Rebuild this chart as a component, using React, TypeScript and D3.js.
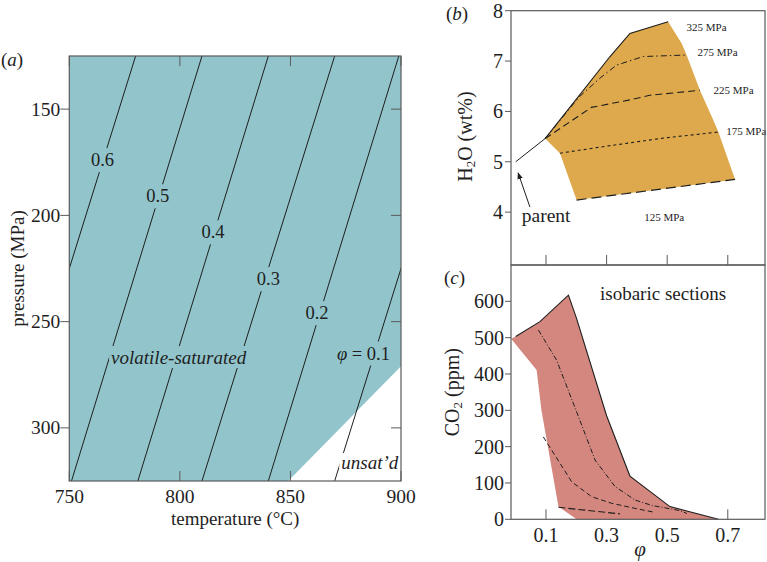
import React from "react";
import * as d3 from "d3";

// (a) crystallinity contours in temperature / pressure space
const phiLevels = [0.6, 0.5, 0.4, 0.3, 0.2, 0.1];
const tempAt125 = [780, 810, 840, 870, 899, 930];
const tempAt325 = [720, 751, 781, 810, 840, 870];
const labelTemp = [765, 790, 815, 840, 862, 883];
const labelPres = [174, 191, 208, 230, 246, 265];
const unsatTemp = [849, 900, 900];
const unsatPres = [325, 271, 325];
const tempTicks = [750, 800, 850, 900];
const presTicks = [150, 200, 250, 300];

// (b) H2O vs phi, isobars
const parentPhi = [0, 0.097];
const parentH2O = [5.0, 5.46];
const phi325 = [0.097, 0.31, 0.377, 0.503];
const h2o325 = [5.46, 7.08, 7.55, 7.78];
const phi275 = [0.097, 0.21, 0.278, 0.333, 0.421, 0.564];
const h2o275 = [5.46, 6.29, 6.66, 6.92, 7.09, 7.12];
const phi225 = [0.097, 0.25, 0.377, 0.443, 0.608];
const h2o225 = [5.46, 6.08, 6.23, 6.32, 6.42];
const phi175 = [0.146, 0.3, 0.487, 0.669];
const h2o175 = [5.17, 5.31, 5.47, 5.59];
const phi125 = [0.201, 0.724];
const h2o125 = [4.24, 4.65];
const edgePhi = [0.548, 0.564, 0.608, 0.652, 0.669];
const edgeH2O = [7.35, 7.12, 6.42, 5.83, 5.59];
const h2oTicks = [4, 5, 6, 7, 8];
const isobarNames = ["325 MPa", "275 MPa", "225 MPa", "175 MPa", "125 MPa"];
const isobarLabelPhi = [0.564, 0.6, 0.653, 0.695, 0.49];
const isobarLabelH2O = [7.67, 7.18, 6.42, 5.61, 3.9];

// (c) CO2 vs phi
const cPhiUpper = [0, 0.08, 0.174, 0.2, 0.3, 0.377, 0.509, 0.669];
const cCo2Upper = [503, 544, 617, 555, 285, 119, 35, 0];
const cPhiLower = [0.201, 0.141, 0.085, 0.069, -0.015];
const cCo2Lower = [0, 35, 300, 411, 497];
const cPhiDashDot = [0.075, 0.135, 0.2, 0.262, 0.328, 0.394, 0.45, 0.542, 0.565];
const cCo2DashDot = [521, 438, 298, 163, 90, 53, 38, 24, 16];
const cPhiDash = [0.091, 0.185, 0.251, 0.317, 0.394, 0.454];
const cCo2Dash = [227, 103, 62, 44, 30, 20];
const cPhiLong = [0.141, 0.344];
const cCo2Long = [33, 15];
const co2Ticks = [0, 100, 200, 300, 400, 500, 600];
const phiTicks = [0.1, 0.3, 0.5, 0.7];

const TEAL = "#92c5cb";
const ORANGE = "#dea84c";
const PINK = "#d4877e";
const FRAME = "#5a5a5a";
const INK = "#1e1e1e";
const FONT = "'Liberation Serif', 'Times New Roman', serif";

const xA = d3.scaleLinear().domain([750, 900]).range([69.3, 401]);
const yA = d3.scaleLinear().domain([125, 325]).range([56, 481]);
const xB = d3.scaleLinear().domain([-0.0155, 0.8228]).range([511, 765]);
const yB = d3.scaleLinear().domain([2.95, 8]).range([265, 10.7]);
const yC = d3.scaleLinear().domain([0, 700]).range([519.3, 265]);

const zip = (a: number[], b: number[]) => a.map((v, i) => [v, b[i]] as [number, number]);
const lineB = d3.line<[number, number]>().x(d => xB(d[0])).y(d => yB(d[1]));
const lineC = d3.line<[number, number]>().x(d => xB(d[0])).y(d => yC(d[1]));

export default function App() {
  const [a0, a1] = xA.range();
  const [b0, b1] = yA.range();

  const bFill = [
    ...zip(phi325, h2o325),
    ...zip(edgePhi, edgeH2O),
    ...zip(phi125, h2o125).reverse(),
    [phi175[0], h2o175[0]] as [number, number],
  ];
  const cFill = [[-0.015, 497] as [number, number], ...zip(cPhiUpper, cCo2Upper), ...zip(cPhiLower, cCo2Lower)];

  return (
    <svg width={767} height={562} style={{ position: "absolute", left: 0, top: 0 }} fontFamily={FONT}>
      <defs>
        <clipPath id="clipA">
          <rect x={a0} y={b0} width={a1 - a0} height={b1 - b0} />
        </clipPath>
        <marker id="arrow" viewBox="0 0 10 10" refX={9} refY={5} markerWidth={7} markerHeight={7} orient="auto">
          <path d="M0,1 L10,5 L0,9 z" fill={INK} />
        </marker>
      </defs>

      {/* ---------- panel (a) ---------- */}
      <rect x={a0} y={b0} width={a1 - a0} height={b1 - b0} fill={TEAL} />
      <path
        d={d3.line<[number, number]>().x(d => xA(d[0])).y(d => yA(d[1]))(zip(unsatTemp, unsatPres)) + "Z"}
        fill="#fff"
      />
      <g clipPath="url(#clipA)">
        {phiLevels.map((p, i) => (
          <line key={p} x1={xA(tempAt325[i])} y1={yA(325)} x2={xA(tempAt125[i])} y2={yA(125)} stroke={INK} strokeWidth={1} />
        ))}
      </g>
      {phiLevels.map((p, i) => {
        const cx = xA(labelTemp[i]);
        const cy = yA(labelPres[i]);
        const last = i === phiLevels.length - 1;
        const w = last ? 60 : 28;
        return (
          <g key={"l" + p}>
            <rect x={cx - w / 2} y={cy - 12} width={w} height={24} fill={TEAL} />
            <text x={cx} y={cy} fontSize={18.5} textAnchor="middle" dominantBaseline="central" fill={INK}>
              {last ? (
                <>
                  <tspan fontStyle="italic">φ</tspan> = {p.toFixed(1)}
                </>
              ) : (
                p.toFixed(1)
              )}
            </text>
          </g>
        );
      })}
      <rect x={xA(768)} y={yA(261.5)} width={140} height={22} fill={TEAL} />
      <text x={xA(768) + 2} y={yA(261.5) + 11} fontSize={19} fontStyle="italic" dominantBaseline="central" fill={INK}>
        volatile-saturated
      </text>
      <rect x={xA(873) - 2} y={yA(316.5) - 10} width={62} height={20} fill="#fff" />
      <text x={xA(873)} y={yA(316.5)} fontSize={19} fontStyle="italic" dominantBaseline="central" fill={INK}>
        unsat’d
      </text>

      {presTicks.map(p => (
        <g key={"pt" + p}>
          <line x1={a0 - 9} x2={a0} y1={yA(p)} y2={yA(p)} stroke={FRAME} />
          <line x1={a1 - 10} x2={a1} y1={yA(p)} y2={yA(p)} stroke={FRAME} />
          <text x={a0 - 9} y={yA(p)} fontSize={19.5} textAnchor="end" dominantBaseline="central" fill={INK}>
            {p}
          </text>
        </g>
      ))}
      {tempTicks.map(t => (
        <g key={"tt" + t}>
          <line x1={xA(t)} x2={xA(t)} y1={b1 - 10} y2={b1} stroke={FRAME} />
          <line x1={xA(t)} x2={xA(t)} y1={b0} y2={b0 + 10} stroke={FRAME} />
          <text x={xA(t)} y={b1 + 15} fontSize={19.5} textAnchor="middle" dominantBaseline="central" fill={INK}>
            {t}
          </text>
        </g>
      ))}
      <rect x={a0} y={b0} width={a1 - a0} height={b1 - b0} fill="none" stroke={FRAME} strokeWidth={1.2} />
      <text x={(a0 + a1) / 2} y={518} fontSize={19} textAnchor="middle" dominantBaseline="central" fill={INK}>
        temperature (°C)
      </text>
      <text
        transform={`translate(17,${(b0 + b1) / 2}) rotate(-90)`}
        fontSize={19}
        textAnchor="middle"
        dominantBaseline="central"
        fill={INK}
      >
        pressure (MPa)
      </text>
      <text x={1} y={59} fontSize={19} dominantBaseline="central" fill={INK}>
        (<tspan fontStyle="italic">a</tspan>)
      </text>

      {/* ---------- panel (b) ---------- */}
      <path d={lineB(bFill) + "Z"} fill={ORANGE} />
      <path d={lineB(zip(parentPhi, parentH2O)) || ""} fill="none" stroke={INK} strokeWidth={1} />
      <path d={lineB(zip(phi325, h2o325)) || ""} fill="none" stroke={INK} strokeWidth={1.1} />
      <path d={lineB(zip(phi275, h2o275)) || ""} fill="none" stroke={INK} strokeWidth={1} strokeDasharray="6,3,1.5,3" />
      <path d={lineB(zip(phi225, h2o225)) || ""} fill="none" stroke={INK} strokeWidth={1.1} strokeDasharray="7,4" />
      <path d={lineB(zip(phi175, h2o175)) || ""} fill="none" stroke={INK} strokeWidth={1.1} strokeDasharray="3,3" />
      <path d={lineB(zip(phi125, h2o125)) || ""} fill="none" stroke={INK} strokeWidth={1.2} strokeDasharray="10,5" />
      {isobarNames.map((n, i) => (
        <text key={n} x={xB(isobarLabelPhi[i])} y={yB(isobarLabelH2O[i])} fontSize={11} dominantBaseline="central" textAnchor={i === 4 ? "middle" : "start"} fill={INK}>
          {n}
        </text>
      ))}
      <line x1={xB(0.047)} y1={yB(4.1)} x2={xB(0.008)} y2={yB(4.78)} stroke={INK} strokeWidth={1} markerEnd="url(#arrow)" />
      <text x={xB(0.02)} y={yB(3.94)} fontSize={19.5} dominantBaseline="central" fill={INK}>
        parent
      </text>
      {h2oTicks.map(v => (
        <g key={"h" + v}>
          <line x1={xB.range()[0] - 6} x2={xB.range()[0]} y1={yB(v)} y2={yB(v)} stroke={FRAME} />
          <text x={xB.range()[0] - 8} y={yB(v)} fontSize={20} textAnchor="end" dominantBaseline="central" fill={INK}>
            {v}
          </text>
        </g>
      ))}
      {phiTicks.map(v => (
        <line key={"bt" + v} x1={xB(v)} x2={xB(v)} y1={yB.range()[0] - 10} y2={yB.range()[0]} stroke={FRAME} />
      ))}
      <rect x={511} y={yB.range()[1]} width={254} height={yB.range()[0] - yB.range()[1]} fill="none" stroke={FRAME} strokeWidth={1.2} />
      <text transform={`translate(465,${yB(5.5)}) rotate(-90)`} fontSize={20} textAnchor="middle" dominantBaseline="central" fill={INK}>
        H<tspan fontSize={13} dy={5}>2</tspan>
        <tspan dy={-5}>O (wt%)</tspan>
      </text>
      <text x={446} y={13} fontSize={19} dominantBaseline="central" fill={INK}>
        (<tspan fontStyle="italic">b</tspan>)
      </text>

      {/* ---------- panel (c) ---------- */}
      {phiTicks.map(v => (
        <line key={"ct" + v} x1={xB(v)} x2={xB(v)} y1={yC(0) - 10} y2={yC(0)} stroke={FRAME} />
      ))}
      <path d={lineC(cFill) + "Z"} fill={PINK} />
      <path d={lineC(zip(cPhiUpper, cCo2Upper)) || ""} fill="none" stroke={INK} strokeWidth={1.1} />
      <path d={lineC(zip(cPhiDashDot, cCo2DashDot)) || ""} fill="none" stroke={INK} strokeWidth={1} strokeDasharray="5,2,1,2" />
      <path d={lineC(zip(cPhiDash, cCo2Dash)) || ""} fill="none" stroke={INK} strokeWidth={1} strokeDasharray="5,3" />
      <path d={lineC(zip(cPhiLong, cCo2Long)) || ""} fill="none" stroke={INK} strokeWidth={1.1} strokeDasharray="7,3" />
      {co2Ticks.map(v => (
        <g key={"c" + v}>
          <line x1={505} x2={511} y1={yC(v)} y2={yC(v)} stroke={FRAME} />
          <text x={504} y={yC(v)} fontSize={20} textAnchor="end" dominantBaseline="central" fill={INK}>
            {v}
          </text>
        </g>
      ))}
      {phiTicks.map(v => (
        <text key={"cl" + v} x={xB(v)} y={535} fontSize={20} textAnchor="middle" dominantBaseline="central" fill={INK}>
          {v.toFixed(1)}
        </text>
      ))}
      <rect x={511} y={yC.range()[1]} width={254} height={yC.range()[0] - yC.range()[1]} fill="none" stroke={FRAME} strokeWidth={1.2} />
      <text x={600} y={293} fontSize={19} dominantBaseline="central" fill={INK}>
        isobaric sections
      </text>
      <text transform={`translate(452,${yC(350)}) rotate(-90)`} fontSize={20} textAnchor="middle" dominantBaseline="central" fill={INK}>
        CO<tspan fontSize={13} dy={5}>2</tspan>
        <tspan dy={-5}> (ppm)</tspan>
      </text>
      <text x={640} y={549} fontSize={21} fontStyle="italic" textAnchor="middle" dominantBaseline="central" fill={INK}>
        φ
      </text>
      <text x={444} y={277} fontSize={19} dominantBaseline="central" fill={INK}>
        (<tspan fontStyle="italic">c</tspan>)
      </text>
    </svg>
  );
}
